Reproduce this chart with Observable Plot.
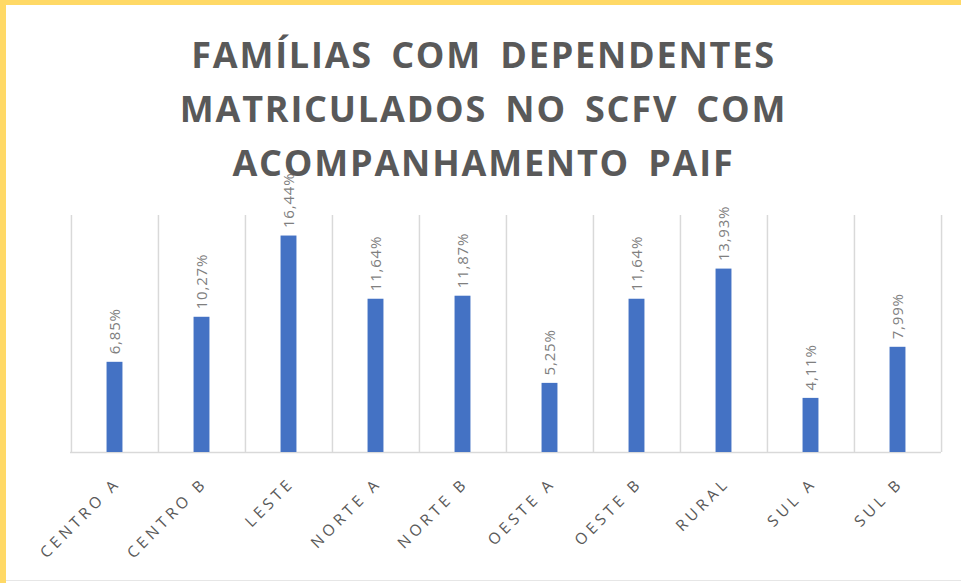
<!DOCTYPE html>
<html>
<head>
<meta charset="utf-8">
<script src="https://cdn.jsdelivr.net/npm/d3@7"></script>
<script src="https://cdn.jsdelivr.net/npm/@observablehq/plot@0.6"></script>
<style>
  html, body { margin: 0; padding: 0; background: #ffffff; }
  #wrap { position: relative; width: 961px; height: 583px; background: #ffffff; overflow: hidden; }
  #bl { position: absolute; left: 0; top: 0; width: 6px; height: 583px; background: #FFD966; }
  #bt { position: absolute; left: 0; top: 0; width: 961px; height: 5px; background: #FFD966; }
  #bb { position: absolute; left: 6px; top: 580px; width: 955px; height: 1px; background: #e6e6e6; }
  #chart { position: absolute; left: 0; top: 0; }
  #title { position: absolute; left: 6px; top: 28px; width: 955px; text-align: center;
    font-family: "Open Sans", sans-serif; font-weight: 700; font-size: 36px; line-height: 54px;
    letter-spacing: 1.8px; word-spacing: 7px; color: #595959; z-index: 2; }
  #chart svg g[aria-label="x-axis tick label"] text { letter-spacing: 4px; }
  #chart svg g[aria-label="text"] text { letter-spacing: 0.8px; }
</style>
</head>
<body>
<div id="wrap">
  <div id="chart"></div>
  <div id="title">FAMÍLIAS COM DEPENDENTES<br>MATRICULADOS NO SCFV COM<br>ACOMPANHAMENTO PAIF</div>
  <div id="bl"></div><div id="bt"></div><div id="bb"></div>
</div>
<script>
const categories = ["CENTRO A", "CENTRO B", "LESTE", "NORTE A", "NORTE B", "OESTE A", "OESTE B", "RURAL", "SUL A", "SUL B"];
const values = [6.85, 10.27, 16.44, 11.64, 11.87, 5.25, 11.64, 13.93, 4.11, 7.99];
const valueLabels = ["6,85%", "10,27%", "16,44%", "11,64%", "11,87%", "5,25%", "11,64%", "13,93%", "4,11%", "7,99%"];

const data = categories.map((c, i) => ({cat: c, value: values[i], label: valueLabels[i]}));

const W = 961, H = 583;
const mL = 70, mR = 20, mT = 215, mB = 131;
const step = (W - mL - mR) / categories.length;
const barW = 16;
const inset = (step - barW) / 2;

const chart = Plot.plot({
  width: W,
  height: H,
  marginLeft: mL,
  marginRight: mR,
  marginTop: mT,
  marginBottom: mB,
  style: {background: "transparent", fontFamily: "Open Sans, sans-serif"},
  x: {domain: categories, padding: 0, label: null},
  y: {domain: [0, 18], axis: null},
  marks: [
    Plot.ruleX(categories, {x: d => d, dx: -step / 2, stroke: "#d9d9d9", strokeWidth: 1.5}),
    Plot.ruleX([categories[categories.length - 1]], {x: d => d, dx: step / 2, stroke: "#d9d9d9", strokeWidth: 1.5}),
    Plot.ruleY([0], {stroke: "#d9d9d9", strokeWidth: 1.5}),
    Plot.barY(data, {x: "cat", y: "value", fill: "#4472C4", insetLeft: inset, insetRight: inset}),
    Plot.text(data, {x: "cat", y: "value", text: "label", rotate: -90, textAnchor: "start",
      dy: -8, fill: "#7f7f7f", fontSize: 15}),
    Plot.axisX({tickRotate: -45, tickSize: 0, tickPadding: 28, dx: 3, fontSize: 15.5, fill: "#595959", label: null})
  ]
});
document.getElementById("chart").appendChild(chart);
</script>
</body>
</html>
